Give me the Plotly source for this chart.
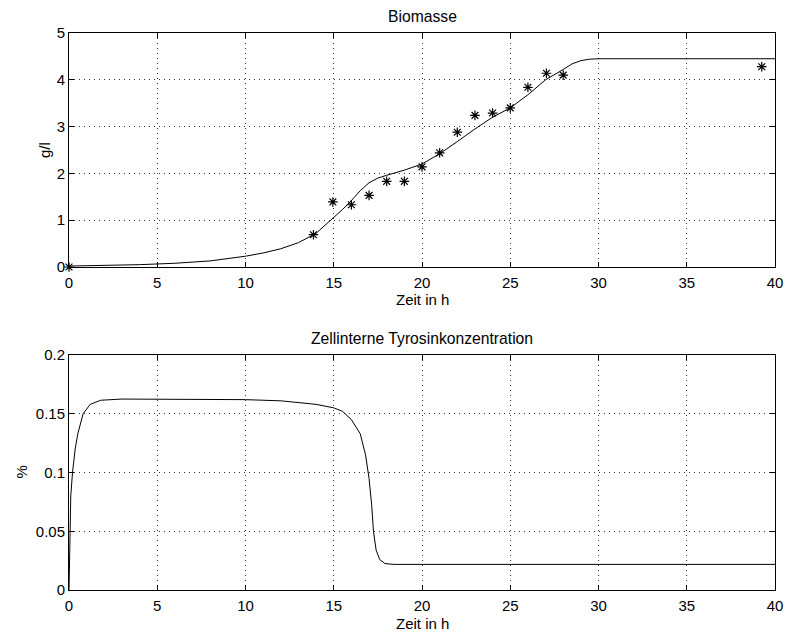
import plotly.graph_objects as go
from plotly.subplots import make_subplots

# Biomasse (model curve)
bio_t = [0, 2, 4, 6, 8, 10, 11, 12, 13, 14, 15, 15.5, 16, 16.5, 17, 17.5, 18, 19, 20, 21, 22, 23, 24, 25, 26, 27, 28, 28.5, 29, 29.5, 30, 40]
bio_v = [0.02, 0.03, 0.05, 0.08, 0.13, 0.23, 0.3, 0.39, 0.52, 0.72, 1.05, 1.23, 1.42, 1.63, 1.8, 1.9, 1.96, 2.07, 2.2, 2.42, 2.68, 2.95, 3.2, 3.4, 3.68, 4.0, 4.22, 4.34, 4.41, 4.44, 4.45, 4.45]

# Biomasse (measurements)
meas_t = [0, 13.85, 14.95, 16, 17, 18, 19, 20, 21, 22, 23, 24, 25, 26, 27.05, 28, 39.25]
meas_v = [0, 0.69, 1.39, 1.33, 1.53, 1.83, 1.83, 2.14, 2.44, 2.88, 3.24, 3.29, 3.4, 3.84, 4.14, 4.1, 4.28]

# Zellinterne Tyrosinkonzentration
tyr_t = [0, 0.05, 0.1, 0.2, 0.35, 0.5, 0.8, 1.2, 1.8, 3, 6, 10, 12, 14, 15, 15.5, 16, 16.5, 16.8, 17, 17.15, 17.25, 17.4, 17.6, 17.9, 18.4, 40]
tyr_v = [0.0, 0.04, 0.08, 0.1, 0.12, 0.133, 0.15, 0.158, 0.1615, 0.1625, 0.1625, 0.162, 0.161, 0.158, 0.155, 0.152, 0.145, 0.133, 0.115, 0.095, 0.072, 0.05, 0.034, 0.026, 0.0225, 0.0218, 0.0218]

x_ticks = [0, 5, 10, 15, 20, 25, 30, 35, 40]
y1_ticks = [0, 1, 2, 3, 4, 5]
y2_ticks = [0, 0.05, 0.1, 0.15, 0.2]
y2_labels = ["0", "0.05", "0.1", "0.15", "0.2"]

FONT = "Liberation Sans, Arial, Helvetica, sans-serif"
FS = 15
FS_TITLE = 15.7

# plot areas: x 69..775 px, top 33..267 px, bottom 355..590 px (figure 786x632)
TOP_DOM = [0.5799, 1.0]
BOT_DOM = [0.0, 0.4219]

fig = make_subplots(rows=2, cols=1)
fig.add_trace(go.Scatter(x=bio_t, y=bio_v, mode="lines", line=dict(color="black", width=1)), row=1, col=1)
fig.add_trace(go.Scatter(x=meas_t, y=meas_v, mode="markers", cliponaxis=False,
                         marker=dict(symbol="asterisk-open", size=8, color="black",
                                     line=dict(color="black", width=1.2))), row=1, col=1)
fig.add_trace(go.Scatter(x=tyr_t, y=tyr_v, mode="lines", line=dict(color="black", width=1)), row=2, col=1)

axis_common = dict(showline=True, linecolor="black", linewidth=1, mirror="allticks",
                   ticks="inside", ticklen=5, tickcolor="black", tickwidth=1,
                   showgrid=True, gridcolor="#333", gridwidth=1, griddash="1px,4px",
                   zeroline=False, automargin=False,
                   tickfont=dict(size=FS, color="black", family=FONT))

fig.update_xaxes(**axis_common, range=[0, 40], tickvals=x_ticks, ticklabelstandoff=2)
fig.update_yaxes(**axis_common)
fig.update_yaxes(range=[0, 5], tickvals=y1_ticks, row=1, col=1)
fig.update_yaxes(range=[0, 0.2], tickvals=y2_ticks, ticktext=y2_labels, row=2, col=1)

def ann(text, x, y, xanchor, yanchor, xshift=0, yshift=0, angle=0, size=FS):
    return dict(text=text, x=x, y=y, xref="paper", yref="paper", xanchor=xanchor,
                yanchor=yanchor, xshift=xshift, yshift=yshift, textangle=angle,
                showarrow=False, font=dict(size=size, family=FONT, color="black"))

fig.update_layout(
    width=786, height=632, showlegend=False,
    paper_bgcolor="white", plot_bgcolor="white",
    margin=dict(l=69, r=11, t=33, b=42),
    font=dict(family=FONT, color="black"),
    xaxis=dict(domain=[0, 1]), xaxis2=dict(domain=[0, 1]),
    yaxis=dict(domain=TOP_DOM), yaxis2=dict(domain=BOT_DOM),
    annotations=[
        ann("Biomasse", 0.5, TOP_DOM[1], "center", "middle", yshift=17, size=FS_TITLE),
        ann("Zellinterne Tyrosinkonzentration", 0.5, BOT_DOM[1], "center", "middle", yshift=17, size=FS_TITLE),
        ann("Zeit in h", 0.5, TOP_DOM[0], "center", "top", yshift=-22),
        ann("Zeit in h", 0.5, BOT_DOM[0], "center", "top", yshift=-23),
        ann("g/l", 0, (TOP_DOM[0] + TOP_DOM[1]) / 2, "center", "middle", xshift=-24, angle=-90),
        ann("%", 0, (BOT_DOM[0] + BOT_DOM[1]) / 2, "center", "middle", xshift=-47, angle=-90),
    ],
)

fig.write_html("out.html", config={"displayModeBar": False},
               post_script="document.body.style.margin='0';document.body.style.overflow='hidden';")
